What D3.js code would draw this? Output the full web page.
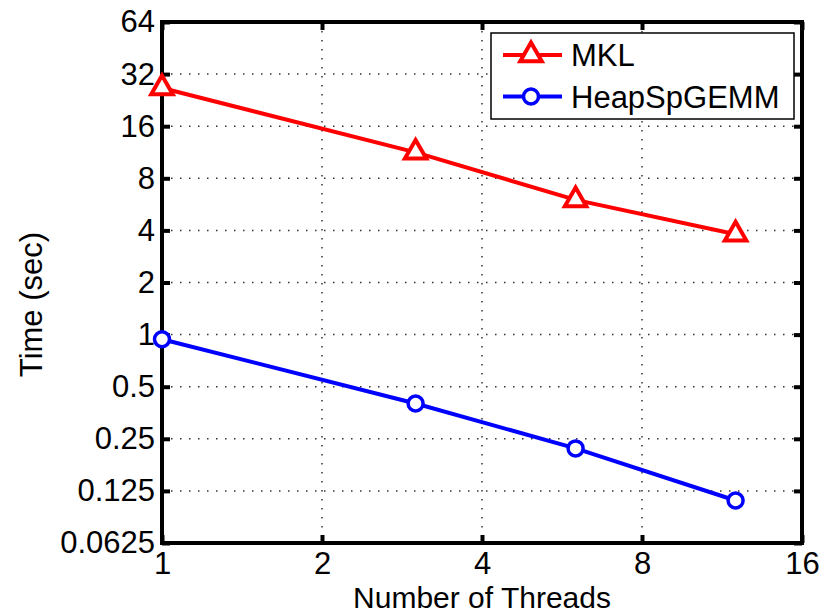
<!DOCTYPE html>
<html>
<head>
<meta charset="utf-8">
<script src="https://cdn.jsdelivr.net/npm/d3@7"></script>
<style>
  body { margin: 0; background: #fff; }
  text { font-family: "Liberation Sans", Arial, Helvetica, sans-serif; fill: #000; }
</style>
</head>
<body>
<svg id="chart" width="837" height="615"></svg>
<script>
const threads = [1, 3, 6, 12];
const mklTime = [26.6, 11.3, 6.0, 3.8];
const heapTime = [0.94, 0.40, 0.22, 0.11];
const xTicks = [1, 2, 4, 8, 16];
const yTicks = [0.0625, 0.125, 0.25, 0.5, 1, 2, 4, 8, 16, 32, 64];
const seriesNames = ["MKL", "HeapSpGEMM"];

const margin = {top: 22, right: 35, bottom: 72, left: 162},
  width = 837 - margin.left - margin.right,
  height = 615 - margin.top - margin.bottom;

const svg = d3.select("#chart");
const g = svg.append("g")
  .attr("transform", "translate(" + margin.left + "," + margin.top + ")");

const x = d3.scaleLog().base(2).domain([1, 16]).range([0, width]);
const y = d3.scaleLog().base(2).domain([0.0625, 64]).range([height, 0]);

// dotted grid
g.selectAll(".gx").data(xTicks.slice(1, -1)).enter().append("line")
  .attr("x1", d => x(d)).attr("x2", d => x(d))
  .attr("y1", 0).attr("y2", height)
  .attr("stroke", "#333").attr("stroke-width", 1.5)
  .attr("stroke-dasharray", "1.5,7.5");
g.selectAll(".gy").data(yTicks.slice(1, -1)).enter().append("line")
  .attr("y1", d => y(d)).attr("y2", d => y(d))
  .attr("x1", 0).attr("x2", width)
  .attr("stroke", "#333").attr("stroke-width", 1.5)
  .attr("stroke-dasharray", "1.5,7.5");

// axes with inward ticks on all four sides
const fmt = d => String(d);
g.append("g")
  .attr("transform", "translate(0," + height + ")")
  .call(d3.axisBottom(x).tickValues(xTicks).tickFormat(fmt).tickSizeInner(-8).tickSizeOuter(0).tickPadding(9))
  .call(a => a.select(".domain").remove());
g.append("g")
  .call(d3.axisLeft(y).tickValues(yTicks).tickFormat(fmt).tickSizeInner(-8).tickSizeOuter(0).tickPadding(7))
  .call(a => a.select(".domain").remove());
g.append("g")
  .call(d3.axisTop(x).tickValues(xTicks).tickFormat("").tickSizeInner(-8).tickSizeOuter(0))
  .call(a => a.select(".domain").remove());
g.append("g")
  .attr("transform", "translate(" + width + ",0)")
  .call(d3.axisRight(y).tickValues(yTicks).tickFormat("").tickSizeInner(-8).tickSizeOuter(0))
  .call(a => a.select(".domain").remove());

g.selectAll(".tick line").attr("stroke", "#000").attr("stroke-width", 4);
g.selectAll(".tick text").style("font-size", "31px").attr("fill", "#000");

// frame
g.append("rect")
  .attr("width", width).attr("height", height)
  .attr("fill", "none").attr("stroke", "#000").attr("stroke-width", 4);

// axis titles
g.append("text")
  .attr("x", width / 2).attr("y", height + 65)
  .attr("text-anchor", "middle")
  .style("font-size", "30px")
  .text("Number of Threads");
g.append("text")
  .attr("transform", "translate(" + (-120) + "," + (height / 2 + 22) + ") rotate(-90)")
  .attr("text-anchor", "middle")
  .style("font-size", "31px")
  .text("Time (sec)");

const line = d3.line()
  .x(d => x(d[0]))
  .y(d => y(d[1]));

const mkl = threads.map((t, i) => [t, mklTime[i]]);
const heap = threads.map((t, i) => [t, heapTime[i]]);

const tri = d3.symbol().type(d3.symbolTriangle).size(200);

g.append("path").datum(mkl)
  .attr("fill", "none").attr("stroke", "#ff0000").attr("stroke-width", 4)
  .attr("d", line);
g.selectAll(".mk").data(mkl).enter().append("path")
  .attr("transform", d => "translate(" + x(d[0]) + "," + y(d[1]) + ")")
  .attr("d", tri)
  .attr("fill", "#fff").attr("stroke", "#ff0000").attr("stroke-width", 4);

g.append("path").datum(heap)
  .attr("fill", "none").attr("stroke", "#0000ff").attr("stroke-width", 4)
  .attr("d", line);
g.selectAll(".hp").data(heap).enter().append("circle")
  .attr("cx", d => x(d[0])).attr("cy", d => y(d[1]))
  .attr("r", 7.5)
  .attr("fill", "#fff").attr("stroke", "#0000ff").attr("stroke-width", 3.5);

// legend
const lg = svg.append("g").attr("transform", "translate(491,33)");
lg.append("rect")
  .attr("width", 303).attr("height", 86)
  .attr("fill", "#fff").attr("stroke", "#000").attr("stroke-width", 1.5);
const colors = ["#ff0000", "#0000ff"];
seriesNames.forEach((name, i) => {
  const cy = 22 + i * 41.5;
  lg.append("line")
    .attr("x1", 12).attr("x2", 71).attr("y1", cy).attr("y2", cy)
    .attr("stroke", colors[i]).attr("stroke-width", 4);
  if (i === 0) {
    lg.append("path")
      .attr("transform", "translate(40," + cy + ")")
      .attr("d", tri)
      .attr("fill", "#fff").attr("stroke", colors[i]).attr("stroke-width", 4);
  } else {
    lg.append("circle")
      .attr("cx", 40).attr("cy", cy).attr("r", 7.5)
      .attr("fill", "#fff").attr("stroke", colors[i]).attr("stroke-width", 3.5);
  }
  lg.append("text")
    .attr("x", 80).attr("y", cy + 11)
    .style("font-size", "31px")
    .text(name);
});
</script>
</body>
</html>
